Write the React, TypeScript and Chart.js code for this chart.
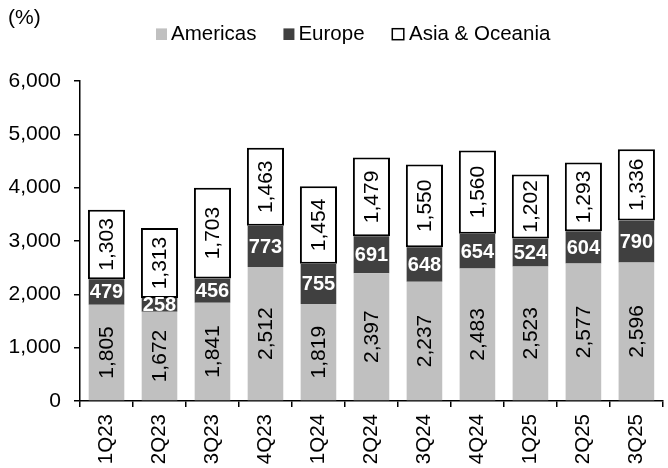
import React, { useEffect, useRef } from "react";
import { Chart, registerables } from "chart.js";

Chart.register(...registerables);

const categories = ["1Q23", "2Q23", "3Q23", "4Q23", "1Q24", "2Q24", "3Q24", "4Q24", "1Q25", "2Q25", "3Q25"];
const americas = [1805, 1672, 1841, 2512, 1819, 2397, 2237, 2483, 2523, 2577, 2596];
const europe = [479, 258, 456, 773, 755, 691, 648, 654, 524, 604, 790];
const asiaOceania = [1303, 1313, 1703, 1463, 1454, 1479, 1550, 1560, 1202, 1293, 1336];
const seriesNames = ["Americas", "Europe", "Asia & Oceania"];
const yMin = 0;
const yMax = 6000;
const yStep = 1000;
const unitLabel = "(%)";

const FONT = "'Liberation Sans', Arial, Helvetica, sans-serif";
const fmt = (v: number) => v.toLocaleString("en-US");

const segLabelPlugin = {
  id: "segLabels",
  afterDatasetsDraw(chart: any) {
    const ctx = chart.ctx;
    chart.data.datasets.forEach((ds: any, di: number) => {
      const meta = chart.getDatasetMeta(di);
      meta.data.forEach((el: any, i: number) => {
        const v = ds.data[i];
        const p = el.getProps(["x", "y", "base"], true);
        const cy = (p.y + p.base) / 2;
        ctx.save();
        ctx.translate(p.x, cy);
        ctx.textAlign = "center";
        ctx.textBaseline = "middle";
        if (ds.labelMode === "horizontal") {
          ctx.fillStyle = "#ffffff";
          ctx.font = `bold 20px ${FONT}`;
          ctx.fillText(fmt(v), 0, 1);
        } else {
          ctx.rotate(-Math.PI / 2);
          ctx.fillStyle = "#000000";
          ctx.font = `21px ${FONT}`;
          ctx.fillText(fmt(v), 0, 1);
        }
        ctx.restore();
      });
    });
  },
};

const headerPlugin = {
  id: "header",
  afterDraw(chart: any) {
    const ctx = chart.ctx;
    ctx.save();
    ctx.fillStyle = "#000";
    ctx.font = `21px ${FONT}`;
    ctx.textAlign = "left";
    ctx.textBaseline = "alphabetic";
    ctx.fillText(unitLabel, 8, 24);

    // legend
    ctx.font = `20.5px ${FONT}`;
    ctx.textBaseline = "middle";
    let x = 156;
    const cy = 34.2;
    chart.data.datasets.forEach((ds: any) => {
      if (ds.legendBorder) {
        ctx.fillStyle = "#fff";
        ctx.fillRect(x + 0.5, cy - 5.5, 12, 11);
        ctx.strokeStyle = "#000";
        ctx.lineWidth = 1.5;
        ctx.strokeRect(x + 0.75, cy - 5.5, 11.5, 11);
        x += 13.5;
      } else {
        ctx.fillStyle = ds.backgroundColor;
        ctx.fillRect(x, cy - 5.8, 11, 11.6);
        x += 11;
      }
      x += 4;
      ctx.fillStyle = "#000";
      ctx.fillText(ds.label, x, cy);
      x += ctx.measureText(ds.label).width + 27;
    });
    ctx.restore();
  },
};

export default function App() {
  const ref = useRef<HTMLCanvasElement | null>(null);

  useEffect(() => {
    if (!ref.current) return;
    const chart = new Chart(ref.current, {
      type: "bar",
      data: {
        labels: categories,
        datasets: [
          {
            label: seriesNames[0],
            data: americas,
            backgroundColor: "#c0c0c0",
            borderWidth: 0,
            barPercentage: 0.672,
            categoryPercentage: 1,
            labelMode: "rotated",
          } as any,
          {
            label: seriesNames[1],
            data: europe,
            backgroundColor: "#404040",
            borderWidth: 0,
            barPercentage: 0.672,
            categoryPercentage: 1,
            labelMode: "horizontal",
          } as any,
          {
            label: seriesNames[2],
            data: asiaOceania,
            backgroundColor: "#ffffff",
            borderColor: "#000000",
            borderWidth: 2,
            borderSkipped: false,
            barPercentage: 0.7,
            categoryPercentage: 1,
            labelMode: "rotated",
            legendBorder: true,
          } as any,
        ],
      },
      options: {
        animation: false,
        responsive: true,
        maintainAspectRatio: false,
        events: [],
        locale: "en-US",
        layout: { padding: { top: 81, left: 0, right: 0, bottom: 0 } },
        plugins: {
          legend: { display: false },
          title: { display: false },
          tooltip: { enabled: false },
        },
        scales: {
          x: {
            stacked: true,
            offset: true,
            afterFit: (s: any) => {
              s.height = 67;
            },
            grid: {
              display: true,
              offset: true,
              drawOnChartArea: false,
              drawTicks: true,
              tickLength: 6,
              color: "#000",
              lineWidth: 1.5,
            },
            border: { display: true, color: "#000", width: 1.5 },
            ticks: {
              color: "#000",
              font: { family: FONT, size: 20.5 },
              minRotation: 90,
              maxRotation: 90,
              padding: 7,
              autoSkip: false,
            },
          },
          y: {
            stacked: true,
            min: yMin,
            max: yMax,
            afterFit: (s: any) => {
              s.width = 80;
            },
            grid: {
              display: true,
              drawOnChartArea: false,
              drawTicks: true,
              tickLength: 6,
              color: "#000",
              lineWidth: 1.5,
            },
            border: { display: true, color: "#000", width: 1.5 },
            ticks: {
              stepSize: yStep,
              color: "#000",
              font: { family: FONT, size: 21 },
              padding: 13,
              callback: (v: any) => fmt(Number(v)),
            },
          },
        },
      },
      plugins: [segLabelPlugin, headerPlugin],
    } as any);
    return () => chart.destroy();
  }, []);

  return (
    <div style={{ position: "absolute", left: 0, top: 0, width: 668, height: 468, background: "#fff" }}>
      <canvas ref={ref} />
    </div>
  );
}
